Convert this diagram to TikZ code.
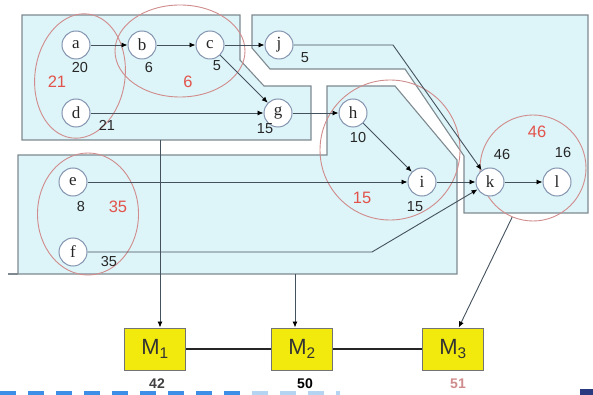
\documentclass[tikz,border=0pt]{standalone}
\usepackage{fontspec}
\setmainfont{Liberation Sans}
\newfontfamily\serifa{Liberation Serif}
\usetikzlibrary{arrows.meta,shapes.geometric}

\definecolor{zona}{HTML}{DDF4F8}
\definecolor{borde}{HTML}{7E8A90}
\definecolor{circulo}{HTML}{8495B0}
\definecolor{arista}{HTML}{44525E}
\definecolor{rojo}{HTML}{E2534B}
\definecolor{rosa}{HTML}{D08C8C}
\definecolor{amarillo}{HTML}{F2EA0C}
\definecolor{guion}{HTML}{3C8EE6}
\definecolor{guionclaro}{HTML}{B4D4F2}
\definecolor{marino}{HTML}{2A3A80}

\begin{document}
\begin{tikzpicture}[x=1pt,y=-1pt,
  nodo/.style={circle,draw=circulo,fill=white,line width=1pt,minimum size=28pt,inner sep=0pt,text=black!85,font=\serifa\fontsize{17}{17}\selectfont},
  num/.style={inner sep=0pt,text=black!85,font=\fontsize{14.5}{14.5}\selectfont},
  peso/.style={inner sep=0pt,text=rojo,font=\fontsize{16.5}{16.5}\selectfont},
  grupo/.style={ellipse,draw=rosa,line width=0.9pt,inner sep=0pt},
  flecha/.style={draw=arista,line width=0.9pt,-{Latex[length=6pt,width=5pt,color=black]}},
  zonas/.style={fill=zona,draw=borde,line width=1.1pt},
  maq/.style={rectangle,draw=black!55,fill=amarillo,line width=1pt,minimum width=61pt,minimum height=42pt,text=black!80,font=\fontsize{22}{22}\selectfont},
  tiempo/.style={inner sep=0pt,font=\bfseries\fontsize{14}{14}\selectfont}]
\useasboundingbox (0,0) rectangle (593,395);

% Zonas de las maquinas
\draw[zonas] (22,15) -- (240,15) -- (240,60) -- (264,86) -- (311,86) -- (311,140) -- (22,140) -- cycle;
\draw[zonas] (252,15) -- (588,15) -- (588,213) -- (464,213) -- (464,156) -- (405,69) -- (270,69) -- (252,48) -- cycle;
\draw[zonas] (18,155) -- (327,155) -- (327,86) -- (395,86) -- (457,160) -- (457,274) -- (18,274) -- cycle;
\draw[draw=borde,line width=1.1pt] (8,274) -- (18,274);

% Grupos
\node[grupo,minimum width=90pt,minimum height=125pt,rotate=-8] (g21) at (80,76) {};
\node[grupo,minimum width=130pt,minimum height=92pt] (g6) at (180,51) {};
\node[grupo,minimum width=101pt,minimum height=122pt] (g35) at (88,214) {};
\node[grupo,minimum width=140pt,minimum height=140pt] (g15) at (390,150) {};
\node[grupo,minimum width=106pt,minimum height=106pt] (g46) at (533,168) {};

% Tareas
\node[nodo] (a) at (76,45) {a};
\node[nodo] (b) at (142,45) {b};
\node[nodo] (c) at (210,45) {c};
\node[nodo] (j) at (279,45) {j};
\node[nodo] (d) at (76,113) {d};
\node[nodo] (g) at (278,113) {g};
\node[nodo] (h) at (353,113) {h};
\node[nodo] (i) at (422,182) {i};
\node[nodo] (k) at (490,182) {k};
\node[nodo] (l) at (557,182) {l};
\node[nodo] (e) at (73,182) {e};
\node[nodo] (f) at (73,252) {f};

% Duraciones
\node[num] (na) at (80,68) {20};
\node[num] (nb) at (149,68) {6};
\node[num] (nc) at (217,66) {5};
\node[num] (nj) at (305,58) {5};
\node[num] (nd) at (107,125) {21};
\node[num] (ng) at (265,129) {15};
\node[num] (nh) at (358,138) {10};
\node[num] (ni) at (415,207) {15};
\node[num] (nk) at (502,155) {46};
\node[num] (nl) at (563,153) {16};
\node[num] (ne) at (81,207) {8};
\node[num] (nf) at (109,262) {35};

% Pesos de los grupos
\node[peso] (p21) at (57,82) {21};
\node[peso] (p6) at (188,82) {6};
\node[peso] (p35) at (118,207) {35};
\node[peso] (p15) at (362,198) {15};
\node[peso] (p46) at (537,132) {46};

% Precedencias
\draw[flecha] (a) -- (b);
\draw[flecha] (b) -- (c);
\draw[flecha] (c) -- (j);
\draw[flecha] (c) -- (g);
\draw[flecha] (d) -- (g);
\draw[flecha] (g) -- (h);
\draw[flecha] (h) -- (i);
\draw[flecha] (e) -- (i);
\draw[flecha] (i) -- (k);
\draw[flecha] (k) -- (l);
\coordinate (jq) at (393,45);
\draw[flecha] (j) -- (jq) -- (k);
\coordinate (fq) at (372,252);
\draw[flecha] (f) -- (fq) -- (k);

% Maquinas
\node[maq] (m1) at (155,349) {M\textsubscript{1}};
\node[maq] (m2) at (302,349) {M\textsubscript{2}};
\node[maq] (m3) at (453,349) {M\textsubscript{3}};
\draw[line width=2pt,black!85] (m1) -- (m2);
\draw[line width=2pt,black!85] (m2) -- (m3);
\node[tiempo,text=black!75] (t1) at (157,384) {42};
\node[tiempo,text=black] (t2) at (305,384) {50};
\node[tiempo,text=rosa] (t3) at (458,384) {51};

% Asignacion
\coordinate (s1) at (160,140);
\coordinate (s2) at (295,274);
\draw[flecha] (s1) -- (s1 |- m1.north);
\draw[flecha] (s2) -- (s2 |- m2.north);
\draw[flecha] (g46.-113) -- (m3.75);

% Pie
\draw[guion,line width=4pt,dash pattern=on 16pt off 12pt] (0,393) -- (250,393);
\draw[guionclaro,line width=4pt,dash pattern=on 16pt off 12pt] (252,393) -- (340,393);
\fill[marino] (580,389) rectangle (593,395);
\end{tikzpicture}
\end{document}
